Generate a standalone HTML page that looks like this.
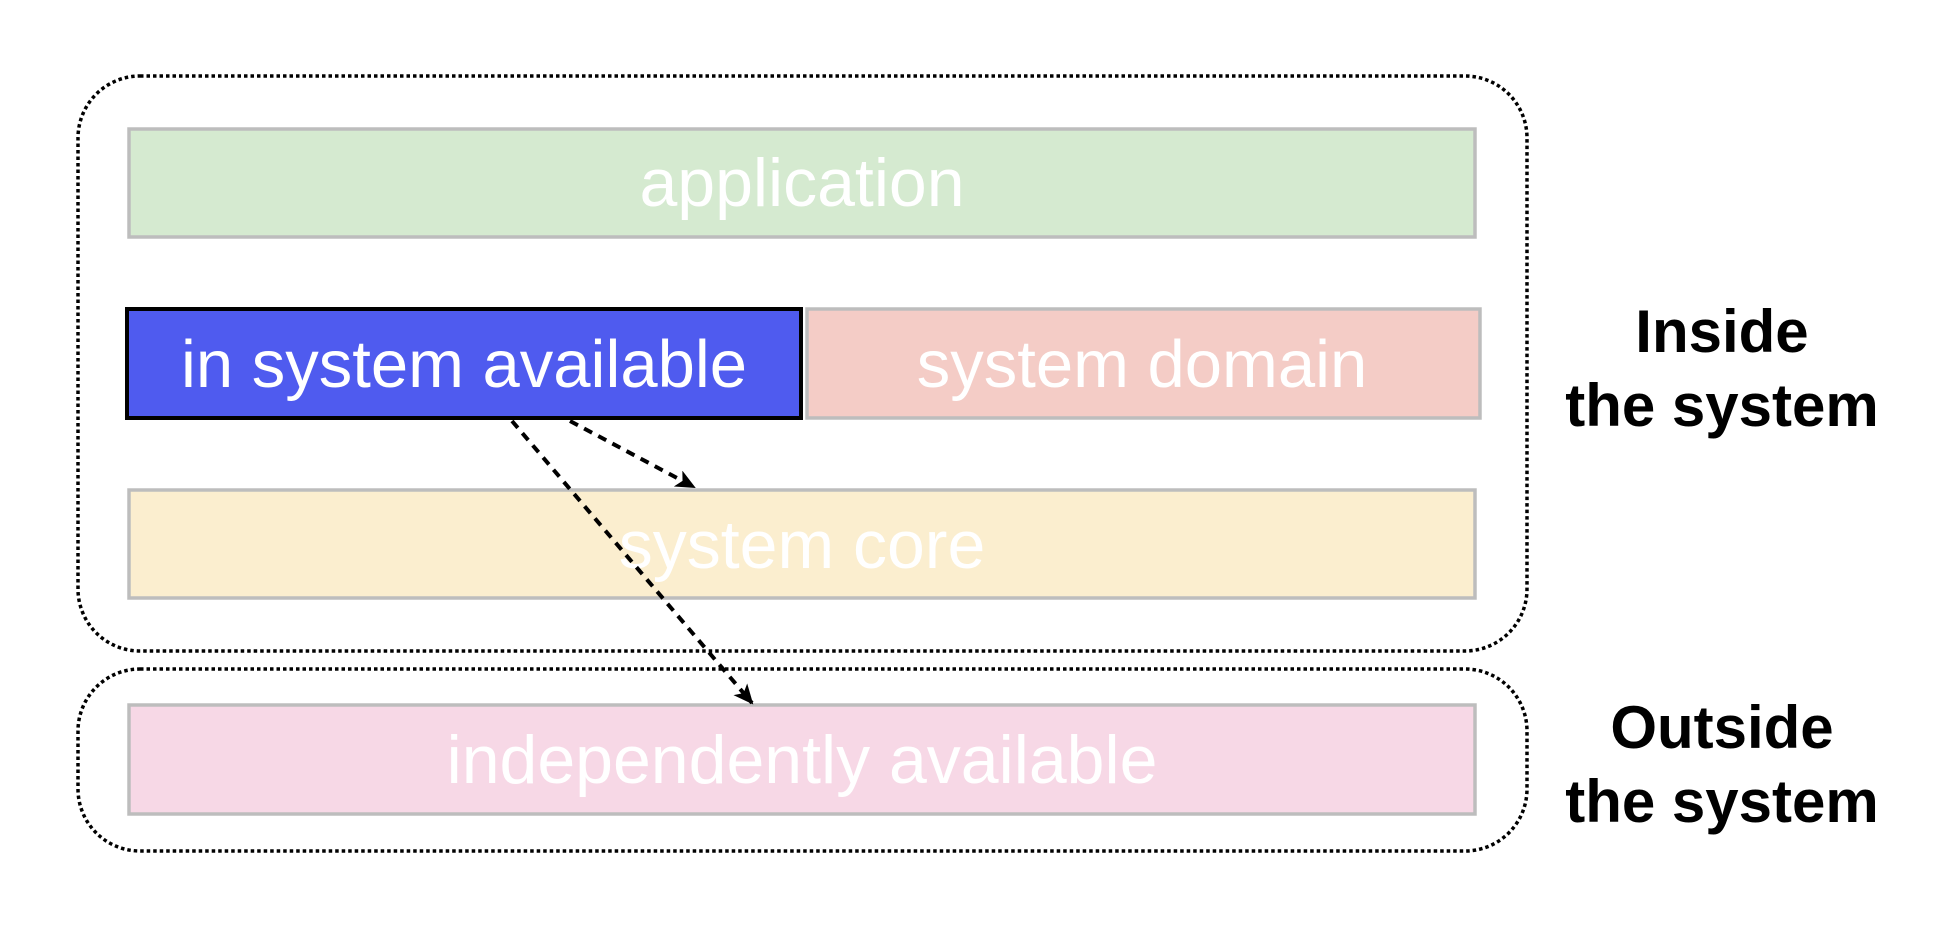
<!DOCTYPE html>
<html><head><meta charset="utf-8"><style>
html,body{margin:0;padding:0;background:#fff;}
body{width:1960px;height:938px;overflow:hidden;}
</style></head><body>
<svg width="1960" height="938" viewBox="0 0 1960 938" xmlns="http://www.w3.org/2000/svg" font-family="Liberation Sans, Arial, sans-serif">
<defs>
<marker id="ah" markerWidth="20" markerHeight="18" refX="18" refY="9" orient="auto" markerUnits="userSpaceOnUse" viewBox="0 0 20 18">
<path d="M0,0 L20,9 L0,18 L5,9 Z" fill="#000"/>
</marker>
</defs>
<rect x="78" y="76" width="1449" height="575" rx="62" fill="none" stroke="#000" stroke-width="3.5" stroke-dasharray="3.5,3"/>
<rect x="78" y="669" width="1449" height="182" rx="62" fill="none" stroke="#000" stroke-width="3.5" stroke-dasharray="3.5,3"/>
<rect x="129" y="129" width="1346" height="108" fill="#d5ead0" stroke="#bdbdbd" stroke-width="3.5"/>
<text x="802" y="206" font-size="68" fill="#fff" text-anchor="middle">application</text>
<rect x="127" y="309" width="674" height="109" fill="#4f5bef" stroke="#000" stroke-width="4"/>
<text x="464" y="387" font-size="67" fill="#fff" text-anchor="middle">in system available</text>
<rect x="807" y="309" width="673" height="109" fill="#f4ccc6" stroke="#bdbdbd" stroke-width="3.5"/>
<text x="1142" y="387" font-size="67" fill="#fff" text-anchor="middle">system domain</text>
<rect x="129" y="490" width="1346" height="108" fill="#fbeecf" stroke="#bdbdbd" stroke-width="3.5"/>
<text x="802" y="568" font-size="68" fill="#fff" text-anchor="middle">system core</text>
<rect x="129" y="705" width="1346" height="109" fill="#f7d8e6" stroke="#bdbdbd" stroke-width="3.5"/>
<text x="802" y="783" font-size="68" fill="#fff" text-anchor="middle">independently available</text>
<line x1="570" y1="421" x2="694" y2="487" stroke="#000" stroke-width="4" stroke-dasharray="9,7" marker-end="url(#ah)"/>
<line x1="512" y1="421" x2="752" y2="703" stroke="#000" stroke-width="4" stroke-dasharray="9,7" marker-end="url(#ah)"/>
<g font-size="60" font-weight="bold" fill="#000" text-anchor="middle">
<text x="1722" y="352">Inside</text>
<text x="1722" y="426">the system</text>
<text x="1722" y="748">Outside</text>
<text x="1722" y="822">the system</text>
</g>
</svg>
</body></html>
